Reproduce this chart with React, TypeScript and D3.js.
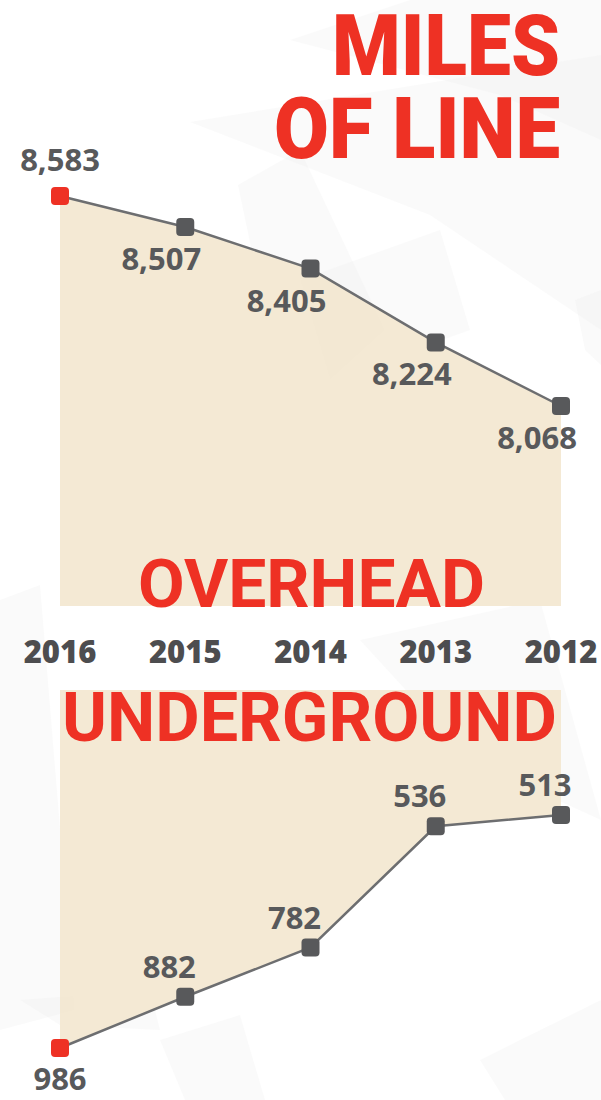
import React from "react";
import * as d3 from "d3";

const years = ["2016", "2015", "2014", "2013", "2012"];
const overhead = [8583, 8507, 8405, 8224, 8068];
const underground = [986, 882, 782, 536, 513];

// faint background shards, decoration only
const shards: [number, number][][] = [
  [[290, 40], [410, 0], [601, 0], [601, 140], [500, 95]],
  [[190, 122], [601, 55], [601, 330], [430, 215]],
  [[238, 185], [300, 150], [385, 330], [330, 380], [262, 300]],
  [[300, 280], [440, 230], [470, 330], [330, 380]],
  [[575, 300], [601, 290], [601, 365], [585, 350]],
  [[0, 600], [40, 585], [75, 1010], [0, 1030]],
  [[160, 1040], [240, 1015], [265, 1100], [185, 1100]],
  [[20, 1000], [150, 990], [160, 1030], [60, 1025]],
  [[480, 1060], [601, 1000], [601, 1100], [505, 1100]],
  [[360, 640], [540, 600], [601, 820], [470, 760]],
];

const RED = "#ee3124";
const GRAY = "#58595b";
const W = 601;
const H = 1100;

export default function App() {
  const x = d3.scalePoint<string>().domain(years).range([60, 561]);
  const yTop = d3.scaleLinear().domain([8068, 8583]).range([406, 196]);
  const yBot = d3.scaleLinear().domain([513, 986]).range([815, 1048]);
  const topBase = 606;
  const botBase = 690;

  const topLine = d3.line<number>().x((_, i) => x(years[i])!).y((d) => yTop(d));
  const topArea = d3.area<number>().x((_, i) => x(years[i])!).y0(topBase).y1((d) => yTop(d));
  const botLine = d3.line<number>().x((_, i) => x(years[i])!).y((d) => yBot(d));
  const botArea = d3.area<number>().x((_, i) => x(years[i])!).y0(botBase).y1((d) => yBot(d));

  const fmt = d3.format(",");
  const m = 18;
  const font = "'Open Sans', sans-serif";
  const heavy = "Roboto, 'Open Sans', sans-serif";

  return (
    <svg width={W} height={H} style={{ position: "absolute", left: 0, top: 0 }}>
      <rect width={W} height={H} fill="#fff" />
      {shards.map((s, i) => (
        <polygon key={i} points={s.map((p) => p.join(",")).join(" ")} fill="#eeeeee" opacity={0.3} />
      ))}

      <text x={560} y={75} textAnchor="end" fill={RED} fontFamily={heavy} fontWeight={900} fontSize={86}
        textLength={228} lengthAdjust="spacingAndGlyphs">MILES</text>
      <text x={560} y={158} textAnchor="end" fill={RED} fontFamily={heavy} fontWeight={900} fontSize={86}
        textLength={286} lengthAdjust="spacingAndGlyphs">OF LINE</text>

      <path d={topArea(overhead)!} fill="#f3e7cf" opacity={0.9} />
      <path d={botArea(underground)!} fill="#f3e7cf" opacity={0.9} />

      <text x={138} y={607} fill={RED} fontFamily={heavy} fontWeight={700} fontSize={66}
        textLength={347} lengthAdjust="spacingAndGlyphs">OVERHEAD</text>
      <text x={62} y={741} fill={RED} fontFamily={heavy} fontWeight={700} fontSize={68}
        textLength={495} lengthAdjust="spacingAndGlyphs">UNDERGROUND</text>

      {years.map((yr) => (
        <text key={yr} x={x(yr)} y={663} textAnchor="middle" fill="#4d4d4f" fontFamily={font}
          fontWeight={800} fontSize={31}>{yr}</text>
      ))}

      <path d={topLine(overhead)!} fill="none" stroke="#6d6e70" strokeWidth={2.5} />
      <path d={botLine(underground)!} fill="none" stroke="#6d6e70" strokeWidth={2.5} />

      {overhead.map((v, i) => (
        <g key={"o" + i}>
          <rect x={x(years[i])! - m / 2} y={yTop(v) - m / 2} width={m} height={m} rx={4}
            fill={i === 0 ? RED : GRAY} />
          <text x={x(years[i])! + (i === 0 ? 0 : -24)} y={yTop(v) + (i === 0 ? -25 : 43)}
            textAnchor="middle" fill={GRAY} fontFamily={font} fontWeight={700} fontSize={31}>{fmt(v)}</text>
        </g>
      ))}

      {underground.map((v, i) => (
        <g key={"u" + i}>
          <rect x={x(years[i])! - m / 2} y={yBot(v) - m / 2} width={m} height={m} rx={4}
            fill={i === 0 ? RED : GRAY} />
          <text x={x(years[i])! + (i === 0 ? 0 : -16)} y={yBot(v) + (i === 0 ? 42 : -19)}
            textAnchor="middle" fill={GRAY} fontFamily={font} fontWeight={700} fontSize={31}>{fmt(v)}</text>
        </g>
      ))}
    </svg>
  );
}
